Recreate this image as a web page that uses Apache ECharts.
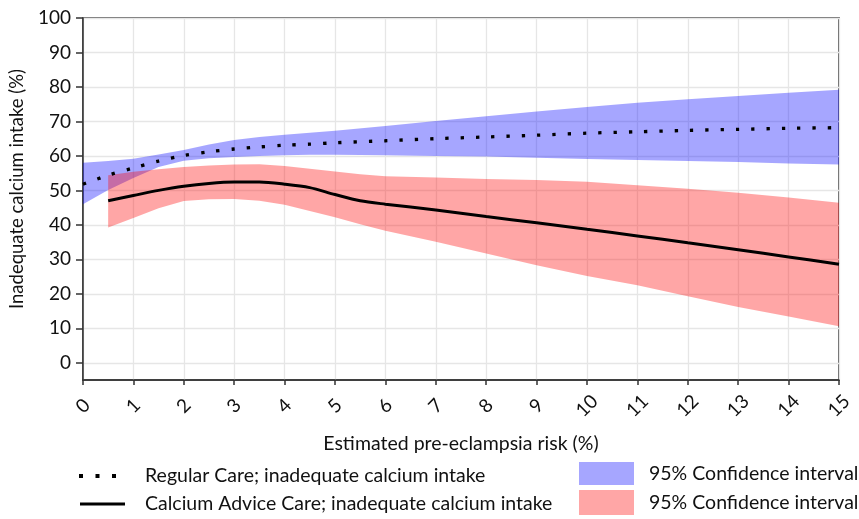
<!DOCTYPE html>
<html>
<head>
<meta charset="utf-8">
<script src="https://cdn.jsdelivr.net/npm/echarts@6/dist/echarts.min.js"></script>
<style>
html,body{margin:0;padding:0;background:#fff;}
#chart{width:859px;height:519px;}
</style>
</head>
<body>
<div id="chart"></div>
<script>
// ---- data ----
var xRegular = [0,0.5,1,1.5,2,2.5,3,3.5,4,4.5,5,6,7,8,9,10,11,12,13,14,15];
var regularCare = [51.8,54.4,56.5,58.5,60.1,61.2,62.0,62.6,63.1,63.4,63.8,64.4,65.0,65.5,66.0,66.6,67.0,67.4,67.7,68.0,68.2];
var regularUpper = [58.0,58.5,59.2,60.4,61.7,63.3,64.6,65.5,66.1,66.7,67.3,68.7,70.1,71.5,72.9,74.2,75.4,76.4,77.4,78.3,79.2];
var regularLower = [46.0,50.1,53.6,56.8,58.6,59.3,59.7,60.0,60.2,60.3,60.3,60.2,60.0,59.8,59.5,59.1,58.8,58.5,58.2,57.8,57.5];

var xAdvice = [0.5,1,1.5,2,2.5,3,3.5,4,4.5,5,5.5,6,7,8,9,10,11,12,13,14,15];
var adviceCare = [47.0,48.5,50.0,51.2,52.0,52.4,52.4,51.8,50.8,48.8,47.0,46.0,44.3,42.4,40.6,38.7,36.8,34.8,32.8,30.7,28.6];
var adviceUpper = [54.4,55.4,56.1,56.8,57.2,57.5,57.6,57.1,56.3,55.5,54.7,54.1,53.7,53.3,53.0,52.5,51.5,50.5,49.3,47.9,46.4];
var adviceLower = [39.2,42.0,44.8,46.9,47.4,47.5,47.0,45.8,44.0,42.2,40.2,38.3,35.1,31.7,28.3,25.2,22.5,19.3,16.2,13.4,10.6];

var xTickLabels = [0,1,2,3,4,5,6,7,8,9,10,11,12,13,14,15];
var yTickLabels = [0,10,20,30,40,50,60,70,80,90,100];

var nameRegular = 'Regular Care; inadequate calcium intake';
var nameAdvice = 'Calcium Advice Care; inadequate calcium intake';
var nameCI = '95% Confidence interval';

// ---- helpers ----
function pairs(xs, ys){ return xs.map(function(x,i){ return [x, ys[i]]; }); }
function bandRows(xs, lo, up){ return xs.map(function(x,i){ return [x, lo[i], up[i]]; }); }
function bandRenderer(color){
  return function(params, api){
    if (params.dataIndex !== 0) return null;
    var n = params.dataInsideLength;
    var top = [], bottom = [];
    for (var i = 0; i < n; i++) {
      top.push(api.coord([api.value(0, i), api.value(2, i)]));
      bottom.push(api.coord([api.value(0, i), api.value(1, i)]));
    }
    var pts = top.concat(bottom.reverse());
    return {type: 'polygon', shape: {points: pts}, style: {fill: color}};
  };
}

var FONT = 'Lato';
var FS = 19.5;
var BLUE = 'rgba(0,0,255,0.35)';
var RED = 'rgba(255,0,0,0.35)';
var legendText = {fontFamily: FONT, fontSize: FS, color: '#111'};
function withPad(p){ return Object.assign({}, legendText, {padding: [0,0,0,p]}); }

var chart = echarts.init(document.getElementById('chart'), null, {renderer:'canvas'});
var option = {
  animation: false,
  backgroundColor: '#ffffff',
  textStyle: {fontFamily: FONT},
  grid: {left: 80, right: 20, top: 18, bottom: 139, show: true, borderColor: '#333', borderWidth: 1.5, backgroundColor: 'transparent'},
  xAxis: {
    type: 'value', min: 0, max: 15, interval: 0.5,
    name: 'Estimated pre-eclampsia risk (%)', nameLocation: 'middle', nameGap: 54,
    nameTextStyle: {fontFamily: FONT, fontSize: FS, color: '#111'},
    axisLine: {show: true, onZero: false, lineStyle: {color: '#333', width: 1.5}},
    axisTick: {show: true, length: 5, customValues: xTickLabels, lineStyle: {color: '#333', width: 1.5}},
    axisLabel: {customValues: xTickLabels, rotate: 45, align: 'center', verticalAlign: 'middle', margin: 26, fontFamily: FONT, fontSize: 19, color: '#111'},
    splitLine: {show: true, lineStyle: {color: '#e6e6e6', width: 1.3}}
  },
  yAxis: {
    type: 'value', min: -5, max: 100, interval: 5,
    name: 'Inadequate calcium intake (%)', nameLocation: 'middle', nameGap: 50, nameRotate: 90,
    nameTextStyle: {fontFamily: FONT, fontSize: 18.5, color: '#111', padding: [0,0,0,20]},
    axisLine: {show: true, onZero: false, lineStyle: {color: '#333', width: 1.5}},
    axisTick: {show: true, length: 7, customValues: yTickLabels, lineStyle: {color: '#333', width: 1.5}},
    axisLabel: {customValues: yTickLabels, margin: 12, fontFamily: FONT, fontSize: 19, color: '#111'},
    splitLine: {show: true, lineStyle: {color: '#e6e6e6', width: 1.3}}
  },
  legend: [
    {
      left: 79, top: 466, padding: 0, itemWidth: 37, itemHeight: 22,
      data: [{name: nameRegular, icon: 'path://M0,0h4v4h-4z M16.5,0h4v4h-4z M33,0h4v4h-4z', itemStyle: {color: '#000'}}],
      textStyle: withPad(24)
    },
    {
      left: 80, top: 494, padding: 0, itemWidth: 45, itemHeight: 22,
      data: [{name: nameAdvice, icon: 'path://M0,0h45v3.2h-45z', itemStyle: {color: '#000'}}],
      textStyle: withPad(15)
    },
    {
      left: 579, top: 462, padding: 0, itemWidth: 55, itemHeight: 23,
      data: [{name: 'ciRegular', icon: 'rect', itemStyle: {color: BLUE}}],
      formatter: function(){ return nameCI; },
      textStyle: withPad(10)
    },
    {
      left: 579, top: 490, padding: 0, itemWidth: 55, itemHeight: 25,
      data: [{name: 'ciAdvice', icon: 'rect', itemStyle: {color: RED}}],
      formatter: function(){ return nameCI; },
      textStyle: withPad(10)
    }
  ],
  series: [
    {name: 'ciRegular', type: 'custom', renderItem: bandRenderer(BLUE), data: bandRows(xRegular, regularLower, regularUpper), encode: {x: 0, y: [1, 2]}, itemStyle: {color: BLUE}, clip: true, silent: true, z: 2},
    {name: 'ciAdvice', type: 'custom', renderItem: bandRenderer(RED), data: bandRows(xAdvice, adviceLower, adviceUpper), encode: {x: 0, y: [1, 2]}, itemStyle: {color: RED}, clip: true, silent: true, z: 2},
    {name: nameRegular, type: 'line', data: pairs(xRegular, regularCare), symbol: 'none', smooth: 0.3, itemStyle: {color: '#000'}, lineStyle: {color: '#000', width: 3.3, type: [3.3, 12]}, z: 5},
    {name: nameAdvice, type: 'line', data: pairs(xAdvice, adviceCare), symbol: 'none', smooth: 0.3, itemStyle: {color: '#000'}, lineStyle: {color: '#000', width: 3, type: 'solid'}, z: 5}
  ]
};
chart.setOption(option);
</script>
</body>
</html>
